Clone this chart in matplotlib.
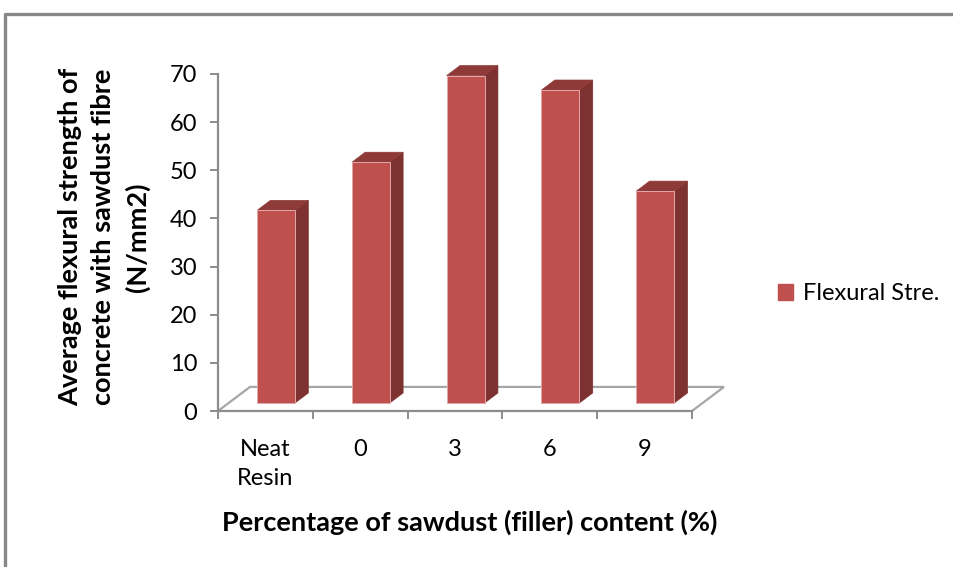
import matplotlib
matplotlib.use("Agg")
import matplotlib.pyplot as plt
from matplotlib.patches import Polygon, Patch
from matplotlib.lines import Line2D

categories = ["Neat\nResin", "0", "3", "6", "9"]
flexural_strength = [40, 50, 68, 65, 44]
series_name = "Flexural Stre."
y_ticks = [0, 10, 20, 30, 40, 50, 60, 70]

y_title = "Average flexural strength of\nconcrete with sawdust fibre\n(N/mm2)"
x_title = "Percentage of sawdust (filler) content (%)"

FRONT = "#C0504D"
SIDE = "#7D3130"
TOP = "#8E3A38"
EDGE = "#E0A9A8"
AXIS_GREY = "#8C8C8C"

# oblique depth of the floor, in data units (x: categories, y: values)
DEPTH_X = 0.337
DEPTH_Y = 5.0
BAR_FRONT = 1 / 3   # bar front face, as a fraction of floor depth
BAR_BACK = 0.75
BAR_WIDTH = 0.4

W, H = 954, 567
plt.rcParams["font.family"] = ["Lato", "DejaVu Sans"]

fig = plt.figure(figsize=(W / 100, H / 100), dpi=100)
ax = fig.add_axes([218 / W, 1 - 411 / H, 474 / W, 337 / H])
n = len(categories)
ax.set_xlim(0, n)
ax.set_ylim(0, y_ticks[-1])

# floor outline (back edge sits behind the bars)
floor_x = [0, DEPTH_X, n + DEPTH_X, n]
floor_y = [0, DEPTH_Y, DEPTH_Y, 0]
ax.plot(floor_x, floor_y, color="#A6A6A6", lw=1.6, clip_on=False, zorder=1,
        solid_joinstyle="miter")

# front faces
base = BAR_FRONT * DEPTH_Y
centres = [i + 0.5 + BAR_FRONT * DEPTH_X for i in range(n)]
ax.bar(centres, flexural_strength, width=BAR_WIDTH, bottom=base, color=FRONT,
       edgecolor=EDGE, linewidth=0.7, clip_on=False, zorder=3)

# side and top faces
ddx = (BAR_BACK - BAR_FRONT) * DEPTH_X
ddy = (BAR_BACK - BAR_FRONT) * DEPTH_Y
for c, v in zip(centres, flexural_strength):
    x0, x1 = c - BAR_WIDTH / 2, c + BAR_WIDTH / 2
    b, t = base, base + v
    side = Polygon([(x1, b), (x1, t), (x1 + ddx, t + ddy), (x1 + ddx, b + ddy)],
                   closed=True, facecolor=SIDE, edgecolor=SIDE, lw=0.5,
                   clip_on=False, zorder=2)
    top = Polygon([(x0, t), (x1, t), (x1 + ddx, t + ddy), (x0 + ddx, t + ddy)],
                  closed=True, facecolor=TOP, edgecolor=TOP, lw=0.5,
                  clip_on=False, zorder=2)
    ax.add_patch(side)
    ax.add_patch(top)

# axes
for s in ("top", "right"):
    ax.spines[s].set_visible(False)
for s in ("left", "bottom"):
    ax.spines[s].set_color(AXIS_GREY)
    ax.spines[s].set_linewidth(1.6)

ax.set_yticks(y_ticks)
ax.tick_params(axis="y", direction="out", length=6, width=1.4, color=AXIS_GREY,
               labelsize=17, pad=9, labelcolor="black")
ax.set_xticks(range(n + 1))
ax.set_xticklabels([""] * (n + 1))
ax.tick_params(axis="x", which="major", direction="out", length=6, width=1.4,
               color=AXIS_GREY)
ax.set_xticks([i + 0.5 for i in range(n)], minor=True)
ax.set_xticklabels(categories, minor=True, fontsize=17, linespacing=1.5)
ax.tick_params(axis="x", which="minor", length=0, pad=20, labelcolor="black")

fig.text(104 / W, 1 - 237 / H, y_title, rotation=90, ha="center", va="center",
         fontsize=19.5, fontweight="bold", linespacing=1.45, multialignment="center")
fig.text(470 / W, 1 - 522 / H, x_title, ha="center", va="center",
         fontsize=19.5, fontweight="bold")

handle = Patch(facecolor=FRONT, edgecolor=FRONT)
fig.legend([handle], [series_name], loc="center left",
           bbox_to_anchor=(778 / W, 1 - 294 / H), frameon=False, fontsize=17,
           handlelength=0.64, handleheight=0.64, handletextpad=0.4,
           borderpad=0, borderaxespad=0)

# outer chart frame
fig.add_artist(Line2D([5 / W, 5 / W, 1.02], [-0.02, 1 - 14 / H, 1 - 14 / H],
                      transform=fig.transFigure, color="#878787", lw=2.4))

fig.savefig("out.png", dpi=100)
